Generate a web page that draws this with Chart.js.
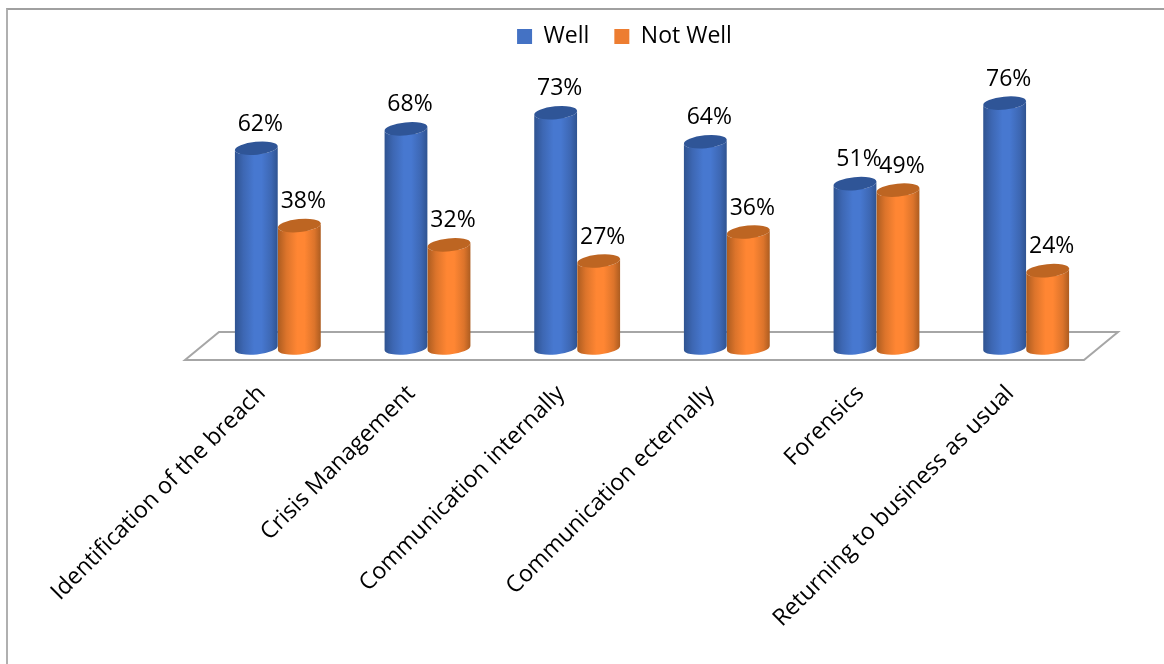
<!DOCTYPE html>
<html>
<head>
<meta charset="utf-8">
<title>Breach response</title>
<script src="https://cdn.jsdelivr.net/npm/chart.js@4/dist/chart.umd.min.js"></script>
<style>
    html, body { margin: 0; padding: 0; background: #fff; overflow: hidden; }
    #wrap { position: relative; width: 1164px; height: 664px; }
    #frame { position: absolute; left: 6px; top: 8px; right: 0; bottom: 0; border-left: 2px solid #b0b0b0; border-top: 2px solid #a0a0a0; }
    canvas { position: absolute; left: 0; top: 0; }
</style>
</head>
<body>
<div id="wrap">
    <div id="frame"></div>
    <canvas id="breachChart" width="1164" height="664"></canvas>
</div>
<script>
const categories = [
    "Identification of the breach",
    "Crisis Management",
    "Communication internally",
    "Communication ecternally",
    "Forensics",
    "Returning to business as usual"
];
const wellValues = [62, 68, 73, 64, 51, 76];
const notWellValues = [38, 32, 27, 36, 49, 24];

const fontName = "'Open Sans', sans-serif";

// colours for the cylinder shading: edge, shoulder, middle, top cap
const shades = [
    { edge: "#2f5390", shoulder: "#3d67b3", mid: "#4778d0", cap: "#2f5597" },
    { edge: "#ac5c20", shoulder: "#dc742b", mid: "#ff8633", cap: "#bd6522" }
];

// Floor of the 3D plot, drawn under the bars
const floorPlugin = {
    id: "floor",
    beforeDatasetsDraw(chart) {
        const { ctx, chartArea, scales } = chart;
        const base = scales.y.getPixelForValue(0);
        ctx.save();
        ctx.beginPath();
        ctx.moveTo(chartArea.left - 18, base + 12);
        ctx.lineTo(chartArea.right - 17, base + 12);
        ctx.lineTo(chartArea.right + 17, base - 16);
        ctx.lineTo(chartArea.left + 16, base - 16);
        ctx.closePath();
        ctx.fillStyle = "#fff";
        ctx.fill();
        ctx.lineWidth = 2;
        ctx.strokeStyle = "#a6a6a6";
        ctx.stroke();
        ctx.restore();
    }
};

// Turns every bar element into a cylinder and writes its label
const cylinderPlugin = {
    id: "cylinder",
    afterDatasetsDraw(chart) {
        const ctx = chart.ctx;
        const tilt = -0.1;
        const ry = 6.5;
        chart.data.datasets.forEach((ds, i) => {
            const shade = shades[i];
            chart.getDatasetMeta(i).data.forEach((bar, j) => {
                const rx = bar.width / 2;
                const grad = ctx.createLinearGradient(bar.x - rx, 0, bar.x + rx, 0);
                grad.addColorStop(0, shade.edge);
                grad.addColorStop(0.2, shade.shoulder);
                grad.addColorStop(0.45, shade.mid);
                grad.addColorStop(0.62, shade.mid);
                grad.addColorStop(0.85, shade.shoulder);
                grad.addColorStop(1, shade.edge);

                ctx.save();
                ctx.beginPath();
                ctx.ellipse(bar.x, bar.y, rx, ry, tilt, Math.PI, 0, true);
                ctx.ellipse(bar.x, bar.base, rx, ry, tilt, 0, Math.PI);
                ctx.closePath();
                ctx.fillStyle = grad;
                ctx.fill();

                ctx.beginPath();
                ctx.ellipse(bar.x, bar.y, rx, ry, tilt, 0, Math.PI * 2);
                ctx.fillStyle = shade.cap;
                ctx.fill();

                ctx.fillStyle = "#000";
                ctx.font = "23px " + fontName;
                ctx.textAlign = "center";
                ctx.textBaseline = "middle";
                ctx.fillText(ds.data[j] + "%", bar.x + 4, bar.y - 24);
                ctx.restore();
            });
        });
    }
};

new Chart(document.getElementById("breachChart"), {
    type: "bar",
    data: {
        labels: categories,
        datasets: [
            { label: "Well", data: wellValues, backgroundColor: "#4472c4", inflateAmount: -5 },
            { label: "Not Well", data: notWellValues, backgroundColor: "#ed7d31", inflateAmount: -5 }
        ]
    },
    options: {
        responsive: false,
        animation: false,
        layout: { padding: { left: 148, right: 63, top: 0, bottom: 0 } },
        categoryPercentage: 0.575,
        barPercentage: 1,
        plugins: {
            tooltip: { enabled: false },
            legend: {
                position: "top",
                labels: {
                    boxWidth: 15,
                    boxHeight: 15,
                    padding: 25,
                    color: "#000",
                    font: { family: fontName, size: 23 }
                }
            }
        },
        scales: {
            x: {
                grid: { display: false },
                border: { display: false },
                afterFit(scale) { scale.height = 316; },
                ticks: {
                    autoSkip: false,
                    minRotation: 45,
                    maxRotation: 45,
                    padding: 24,
                    labelOffset: -16,
                    color: "#000",
                    font: { family: fontName, size: 23.2 }
                }
            },
            y: {
                min: 0,
                max: 90,
                grid: { display: false },
                border: { display: false },
                ticks: { display: false },
                afterFit(scale) { scale.width = 55; }
            }
        }
    },
    plugins: [floorPlugin, cylinderPlugin]
});
</script>
</body>
</html>
